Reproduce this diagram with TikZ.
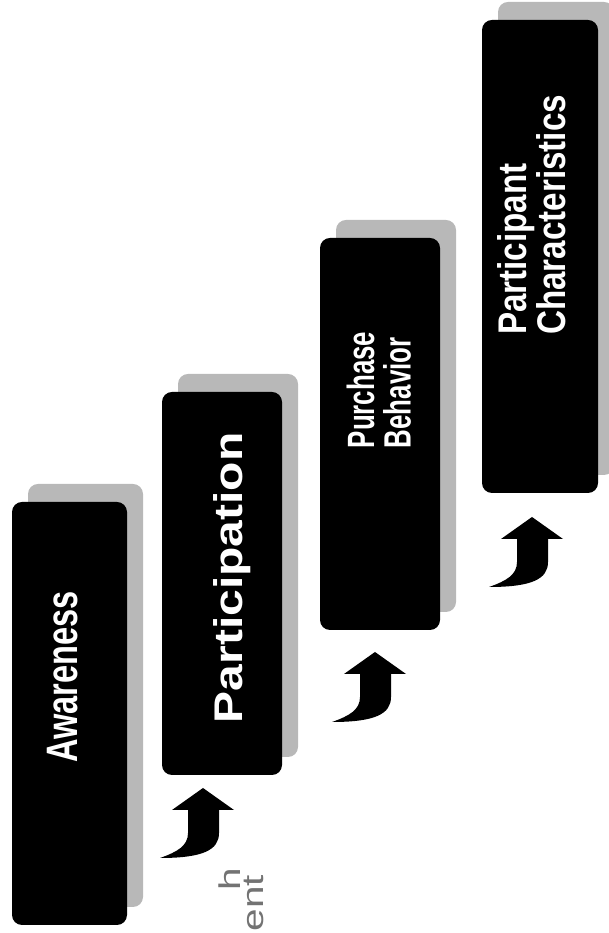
\documentclass[tikz,border=0pt]{standalone}
\usepackage{fontspec}
\setmainfont{Liberation Sans}
\begin{document}
\begin{tikzpicture}[x=1pt,y=1pt,
  shadowbox/.style={fill=black!28, rounded corners=10pt, inner sep=0pt, rotate=90},
  stagebox/.style={fill=black, rounded corners=10pt, inner sep=0pt, rotate=90},
  stagelabel/.style={text=white, rotate=90, inner sep=0pt, align=left},
  pagetext/.style={text=black!55, font=\fontsize{30}{32}\selectfont, rotate=90, inner sep=0pt},
  uparrow/.pic={\fill[black] (0,0) -- (31,-22) -- (16,-22) -- (16,-45)
      .. controls (16,-62) and (0,-70) .. (-43,-70)
      .. controls (-26,-64) and (-15,-58) .. (-15,-45)
      -- (-15,-22) -- (-31,-22) -- cycle;}
]
\useasboundingbox (0,0) rectangle (609,933);

% shadows
\node[shadowbox, minimum width=423pt, minimum height=115pt] (s1) at (85.5,237.5) {};
\node[shadowbox, minimum width=383pt, minimum height=120pt] (s2) at (238,367.5) {};
\node[shadowbox, minimum width=392pt, minimum height=120pt] (s3) at (396,517) {};
\node[shadowbox, minimum width=473pt, minimum height=116pt] (s4) at (556,694.5) {};

% stage boxes
\node[stagebox, minimum width=423pt, minimum height=115pt] (b1) at (69.5,219.5) {};
\node[stagebox, minimum width=383pt, minimum height=120pt] (b2) at (222,349.5) {};
\node[stagebox, minimum width=392pt, minimum height=120pt] (b3) at (380,499) {};
\node[stagebox, minimum width=473pt, minimum height=116pt] (b4) at (540,676.5) {};

% labels
\node[stagelabel] (l1) at (63,256) {\bfseries\fontsize{44}{44}\selectfont\scalebox{0.74}[1]{Awareness}};
\node[stagelabel] (l2) at (232,355) {\bfseries\fontsize{40}{40}\selectfont\scalebox{1.2}[1]{Participation}};
\node[stagelabel] (l3) at (383,543) {\bfseries\fontsize{38}{30}\selectfont\scalebox{0.68}[1]{\begin{tabular}{@{}l@{}}Purchase\\Behavior\end{tabular}}};
\node[stagelabel] (l4) at (537,718) {\bfseries\fontsize{40}{36}\selectfont\scalebox{0.83}[1]{\begin{tabular}{@{}l@{}}Participant\\Characteristics\end{tabular}}};

% hook arrows
\pic (a2) at (203,145) {uparrow};
\pic (a3) at (375,281) {uparrow};
\pic (a4) at (532,416) {uparrow};

% cut-off page text
\node[pagetext, anchor=base east] (t1) at (240,65) {\scalebox{1.35}[1]{h}};
\node[pagetext, anchor=base east] (t2) at (263,58) {\scalebox{1.35}[1]{ent}};
\end{tikzpicture}
\end{document}
